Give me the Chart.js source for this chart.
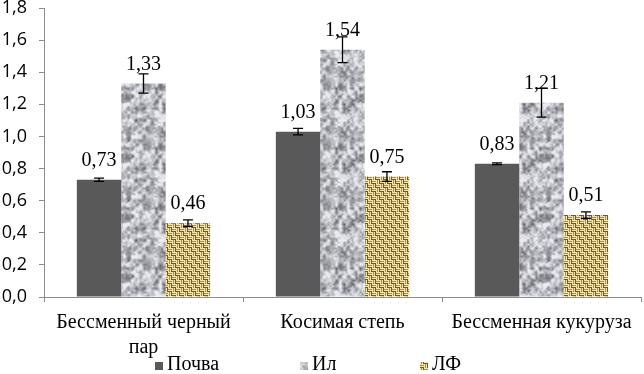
<!DOCTYPE html>
<html>
<head>
<meta charset="utf-8">
<script src="https://cdn.jsdelivr.net/npm/chart.js@4/dist/chart.umd.min.js"></script>
<style>
  html, body { margin: 0; padding: 0; background: #fff; }
  #wrap { width: 644px; height: 374px; }
</style>
</head>
<body>
<div id="wrap"><canvas id="chart"></canvas></div>
<script>
// data
const categories = [['Бессменный черный', 'пар'], 'Косимая степь', 'Бессменная кукуруза'];
const seriesNames = ['Почва', 'Ил', 'ЛФ'];
const soilValues = [0.73, 1.03, 0.83];
const siltValues = [1.33, 1.54, 1.21];
const lfValues = [0.46, 0.75, 0.51];
const soilErr = [0.01, 0.02, 0.005];
const siltErr = [0.06, 0.08, 0.09];
const lfErr = [0.02, 0.03, 0.02];
const yMin = 0, yMax = 1.8, yStep = 0.2;

const serif = '"Liberation Serif", "Times New Roman", serif';
const fmt = v => v.toFixed(2).replace('.', ',');

// deterministic texture helpers (style only)
function hashNoise(ix, iy, seed) {
  let h = Math.imul(ix, 374761393) + Math.imul(iy, 668265263) + Math.imul(seed, 982451653);
  h = Math.imul(h ^ (h >>> 13), 1274126177);
  h = h ^ (h >>> 16);
  return ((h >>> 0) % 10000) / 10000;
}

function makeGranite() {
  const size = 60;
  const c = document.createElement('canvas');
  c.width = c.height = size;
  const g = c.getContext('2d');
  const img = g.createImageData(size, size);
  function layer(x, y, cell, seed) {
    const n = size / cell;
    const gx = x / cell, gy = y / cell;
    const x0 = Math.floor(gx), y0 = Math.floor(gy);
    const fx = gx - x0, fy = gy - y0;
    const sx = fx * fx * (3 - 2 * fx), sy = fy * fy * (3 - 2 * fy);
    const a = hashNoise(x0 % n, y0 % n, seed);
    const b = hashNoise((x0 + 1) % n, y0 % n, seed);
    const c2 = hashNoise(x0 % n, (y0 + 1) % n, seed);
    const d = hashNoise((x0 + 1) % n, (y0 + 1) % n, seed);
    return a + (b - a) * sx + (c2 - a) * sy + (a - b - c2 + d) * sx * sy;
  }
  for (let y = 0; y < size; y++) {
    for (let x = 0; x < size; x++) {
      let v = 0.6 * layer(x, y, 4, 1) + 0.4 * layer(x, y, 2, 2);
      let gray = 95 + v * 175;
      gray = Math.max(90, Math.min(235, gray));
      const i = (y * size + x) * 4;
      img.data[i] = gray - 2;
      img.data[i + 1] = gray;
      img.data[i + 2] = gray + 6;
      img.data[i + 3] = 255;
    }
  }
  g.putImageData(img, 0, 0);
  return g.createPattern(c, 'repeat');
}

function makeWeave() {
  const c = document.createElement('canvas');
  c.width = c.height = 8;
  const g = c.getContext('2d');
  g.fillStyle = '#b58c42';
  g.fillRect(0, 0, 8, 8);
  for (let qy = 0; qy < 2; qy++) {
    for (let qx = 0; qx < 2; qx++) {
      const horiz = (qx + qy) % 2 === 0;
      for (let k = 0; k < 4; k++) {
        g.fillStyle = k % 2 === 0 ? '#f5e3a8' : (k === 3 ? '#7a5520' : '#b58c42');
        if (horiz) g.fillRect(qx * 4, qy * 4 + k, 4, 1);
        else g.fillRect(qx * 4 + k, qy * 4, 1, 4);
      }
    }
  }
  return document.createElement('canvas').getContext('2d').createPattern(c, 'repeat');
}

const soilColor = '#595959';
const siltFill = makeGranite();
const lfFill = makeWeave();
const fills = [soilColor, siltFill, lfFill];
const errs = [soilErr, siltErr, lfErr];

const extrasPlugin = {
  id: 'extras',
  afterDatasetsDraw(chart) {
    const ctx = chart.ctx;
    const y = chart.scales.y;
    ctx.save();
    chart.data.datasets.forEach((ds, i) => {
      const meta = chart.getDatasetMeta(i);
      meta.data.forEach((bar, j) => {
        const v = ds.data[j], e = errs[i][j];
        const yt = y.getPixelForValue(v + e), yb = y.getPixelForValue(v - e);
        ctx.strokeStyle = '#000';
        ctx.lineWidth = 1.3;
        ctx.beginPath();
        ctx.moveTo(bar.x, yt); ctx.lineTo(bar.x, yb);
        ctx.moveTo(bar.x - 5, yt); ctx.lineTo(bar.x + 5, yt);
        ctx.moveTo(bar.x - 5, yb); ctx.lineTo(bar.x + 5, yb);
        ctx.stroke();
        ctx.fillStyle = '#000';
        ctx.font = '20px ' + serif;
        ctx.textAlign = 'center';
        ctx.textBaseline = 'middle';
        ctx.fillText(fmt(v), bar.x, bar.y - 19);
      });
    });
    // legend
    const boxX = [155, 300, 420];
    ctx.font = '20px ' + serif;
    ctx.textAlign = 'left';
    ctx.textBaseline = 'middle';
    seriesNames.forEach((name, i) => {
      ctx.fillStyle = fills[i];
      ctx.fillRect(boxX[i], 362, 8, 8);
      ctx.fillStyle = '#000';
      ctx.fillText(name, boxX[i] + 12, 365);
    });
    ctx.restore();
  }
};

new Chart(document.getElementById('chart'), {
  type: 'bar',
  data: {
    labels: categories,
    datasets: [
      { label: seriesNames[0], data: soilValues, backgroundColor: soilColor },
      { label: seriesNames[1], data: siltValues, backgroundColor: siltFill },
      { label: seriesNames[2], data: lfValues, backgroundColor: lfFill },
    ],
  },
  options: {
    responsive: true,
    maintainAspectRatio: false,
    animation: false,
    layout: { padding: { top: 8, right: 3, bottom: 13, left: 0 } },
    plugins: { legend: { display: false }, tooltip: { enabled: false } },
    datasets: { bar: { categoryPercentage: 0.67, barPercentage: 1 } },
    scales: {
      x: {
        grid: { display: true, drawOnChartArea: false, tickLength: 5, color: '#8c8c8c', offset: true },
        border: { color: '#8c8c8c' },
        ticks: { color: '#000', font: { family: serif, size: 20, lineHeight: 1.25 }, padding: 8, maxRotation: 0, autoSkip: false },
        afterFit(scale) { scale.height = 64; scale.paddingLeft = 0; scale.paddingRight = 0; },
      },
      y: {
        min: yMin, max: yMax,
        grid: { display: true, drawOnChartArea: false, tickLength: 5, color: '#8c8c8c' },
        border: { color: '#8c8c8c' },
        ticks: {
          stepSize: yStep, color: '#000', padding: 12,
          font: { family: '"Open Sans", sans-serif', size: 18 },
          callback: v => v.toFixed(1).replace('.', ','),
        },
        afterFit(scale) { scale.width = 44; scale.paddingTop = 0; scale.paddingBottom = 0; },
      },
    },
  },
  plugins: [extrasPlugin],
});
</script>
</body>
</html>
